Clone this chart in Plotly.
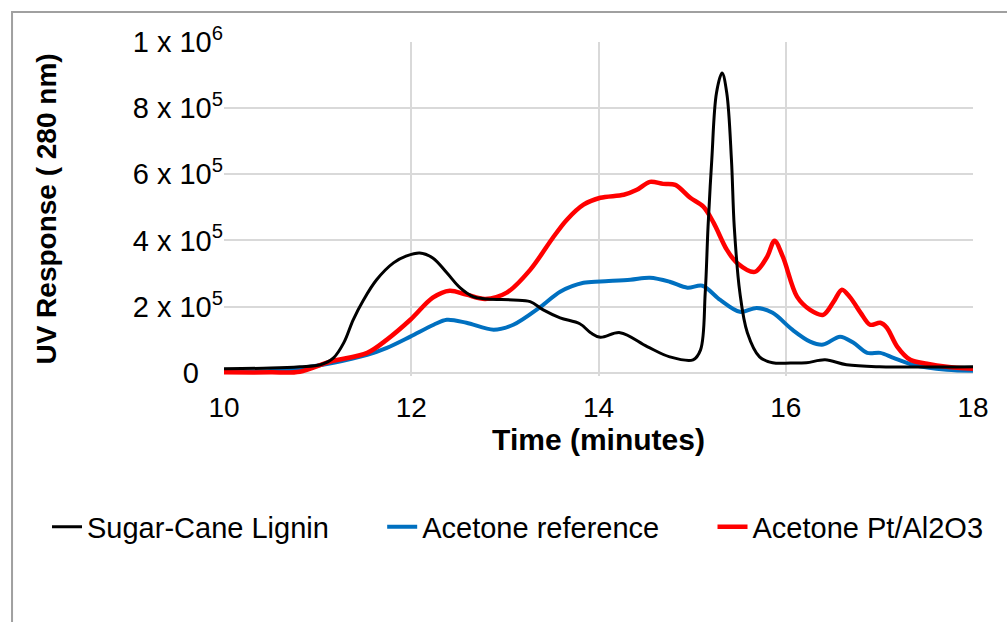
import plotly.graph_objects as go

# Sugar-Cane Lignin (black)
t_lignin = [10.0, 10.5, 10.81, 11.03, 11.17, 11.28, 11.38, 11.49, 11.63, 11.81, 11.95, 12.09, 12.23,
            12.38, 12.52, 12.66, 12.81, 13.09, 13.27, 13.41, 13.59, 13.80, 13.92, 14.02, 14.23, 14.52,
            14.76, 15.01, 15.09, 15.14, 15.17, 15.21, 15.26, 15.32, 15.37, 15.42, 15.45, 15.51, 15.59,
            15.72, 15.86, 16.05, 16.22, 16.42, 16.65, 17.0, 18.0]
v_lignin = [12000, 14000, 18000, 24000, 45000, 91000, 160000, 220000, 281000, 332000, 353000, 362000, 347000,
            302000, 257000, 230000, 223000, 220000, 215000, 190000, 166000, 148000, 120000, 107000, 121000, 79000,
            48000, 39000, 69000, 242000, 441000, 644000, 846000, 906000, 846000, 644000, 441000, 242000, 121000,
            48000, 30000, 29000, 30000, 39000, 24000, 18000, 18000]

# Acetone reference (blue)
t_ref = [10.0, 10.5, 10.92, 11.17, 11.53, 11.74, 11.99, 12.24, 12.38, 12.59, 12.88, 13.09, 13.38,
         13.59, 13.84, 14.02, 14.34, 14.55, 14.76, 14.95, 15.11, 15.30, 15.51, 15.69, 15.86,
         16.07, 16.26, 16.40, 16.58, 16.72, 16.87, 17.01, 17.15, 17.36, 17.72, 18.0]
v_ref = [4000, 5000, 18000, 30000, 54000, 75000, 109000, 145000, 160000, 151000, 130000, 145000, 199000,
         245000, 272000, 276000, 281000, 287000, 275000, 257000, 263000, 220000, 184000, 196000, 181000,
         130000, 94000, 85000, 109000, 91000, 60000, 60000, 45000, 24000, 9000, 6000]

# Acetone Pt/Al2O3 (red)
t_pt = [10.0, 10.5, 10.81, 11.13, 11.53, 11.74, 11.99, 12.23, 12.41, 12.59, 12.79, 13.02, 13.27,
        13.52, 13.66, 13.84, 14.02, 14.27, 14.41, 14.55, 14.69, 14.82, 14.98, 15.12, 15.23, 15.37,
        15.48, 15.67, 15.80, 15.88, 15.97, 16.12, 16.26, 16.40, 16.51, 16.60, 16.69, 16.80, 16.90,
        17.01, 17.08, 17.19, 17.33, 17.51, 17.72, 18.0]
v_pt = [1000, 1000, 3000, 33000, 60000, 100000, 160000, 227000, 248000, 236000, 223000, 242000, 311000,
        411000, 462000, 508000, 529000, 538000, 553000, 577000, 571000, 568000, 529000, 502000, 453000, 372000,
        332000, 305000, 350000, 399000, 350000, 230000, 190000, 175000, 214000, 251000, 227000, 181000, 145000,
        151000, 136000, 79000, 39000, 27000, 18000, 12000]

series_names = ["Sugar-Cane Lignin", "Acetone reference", "Acetone Pt/Al2O3"]

y_tickvals = [0, 200000, 400000, 600000, 800000, 1000000]
y_ticktext = ["0\u00a0\u00a0\u00a0", "2 x 10<sup>5</sup>", "4 x 10<sup>5</sup>", "6 x 10<sup>5</sup>",
              "8 x 10<sup>5</sup>", "1 x 10<sup>6</sup>"]
x_tickvals = [10, 12, 14, 16, 18]

FONT = "Liberation Sans, Arial, sans-serif"
PAD = "\u00a0" * 6

fig = go.Figure()
fig.add_trace(go.Scatter(x=t_ref, y=v_ref, mode="lines", name=series_names[1] + PAD,
                         line=dict(color="#0070C0", width=4, shape="spline", smoothing=0.9),
                         legendrank=2))
fig.add_trace(go.Scatter(x=t_pt, y=v_pt, mode="lines", name=series_names[2],
                         line=dict(color="#FF0000", width=4.5, shape="spline", smoothing=0.9),
                         legendrank=3))
fig.add_trace(go.Scatter(x=t_lignin, y=v_lignin, mode="lines", name=series_names[0] + PAD,
                         line=dict(color="#000000", width=3, shape="spline", smoothing=1.0),
                         legendrank=1))

fig.update_layout(
    width=1007, height=622,
    margin=dict(l=224, r=34, t=42, b=246),
    paper_bgcolor="white", plot_bgcolor="white",
    font=dict(family=FONT, color="#000000", size=26),
    showlegend=True,
    legend=dict(orientation="h", x=-0.2363, xanchor="left", y=-0.452, yanchor="middle",
                font=dict(size=29, family=FONT),
                bgcolor="rgba(0,0,0,0)", itemwidth=30),
    xaxis=dict(range=[10, 18], tickvals=x_tickvals, showgrid=True, gridcolor="#D9D9D9", gridwidth=1.5,
               zeroline=False, showline=False, ticks="outside", ticklen=6, tickcolor="rgba(0,0,0,0)",
               tickfont=dict(size=28, family=FONT),
               title=dict(text="<b>Time (minutes)</b>", font=dict(size=30, family=FONT), standoff=7)),
    yaxis=dict(range=[-10000, 1000000], tickvals=y_tickvals, ticktext=y_ticktext, showgrid=True,
               gridcolor="#D9D9D9", gridwidth=1.5, zeroline=False, showline=False, ticks="",
               tickfont=dict(size=29, family=FONT),
               title=dict(text="<b>UV Response ( 280 nm)</b>", font=dict(size=28, family=FONT), standoff=67)),
    shapes=[dict(type="rect", xref="paper", yref="paper", x0=-0.283, x1=1.2, y0=-0.9, y1=1.0898,
                 line=dict(color="#A0A0A0", width=2), fillcolor="rgba(0,0,0,0)", layer="below")],
)

fig.write_html("out.html")
